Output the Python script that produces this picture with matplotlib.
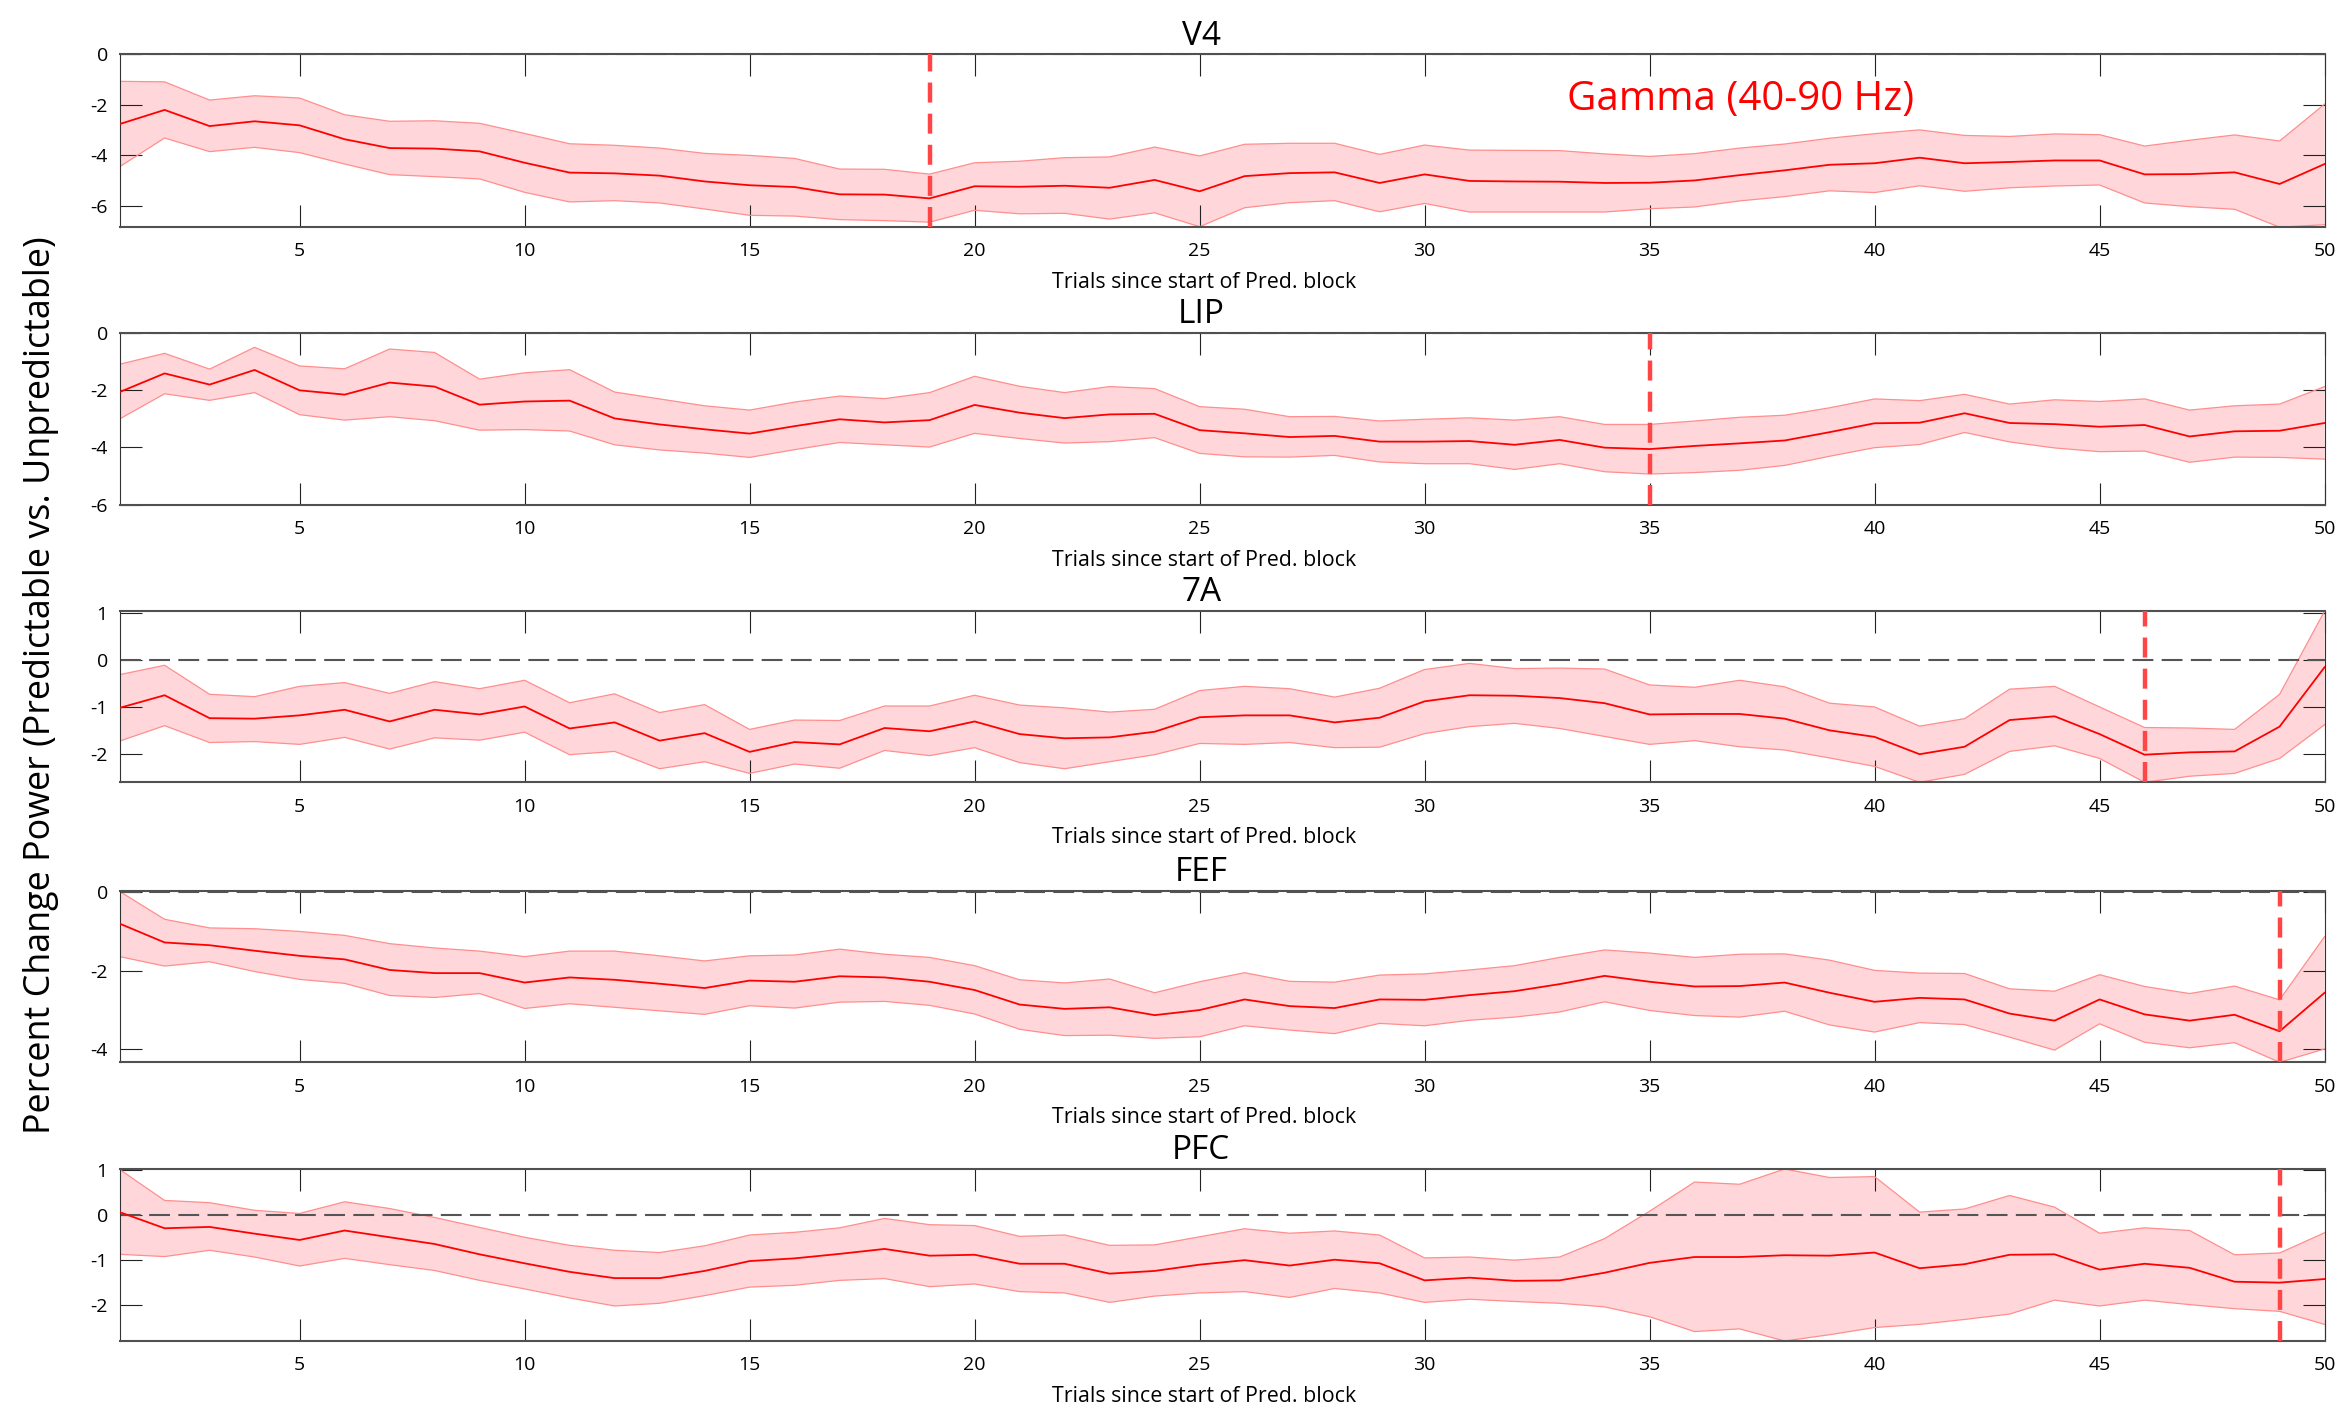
import numpy as np
import matplotlib
matplotlib.use("Agg")
import matplotlib.pyplot as plt

plt.rcParams["font.family"] = ["Open Sans", "DejaVu Sans"]
plt.rcParams["axes.unicode_minus"] = False

trials = np.arange(1, 51)
areas = ["V4", "LIP", "7A", "FEF", "PFC"]
x_ticks = [5, 10, 15, 20, 25, 30, 35, 40, 45, 50]
x_label = "Trials since start of Pred. block"
y_label = "Percent Change Power (Predictable vs. Unpredictable)"
band_label = "Gamma (40-90 Hz)"

# ---- V4 ----
v4_mean = [-2.76, -2.20, -2.84, -2.65, -2.81, -3.36, -3.71, -3.73, -3.84, -4.29,
           -4.68, -4.71, -4.80, -5.03, -5.18, -5.25, -5.54, -5.55, -5.70, -5.22,
           -5.24, -5.20, -5.28, -4.97, -5.42, -4.82, -4.70, -4.67, -5.09, -4.75,
           -5.01, -5.03, -5.04, -5.09, -5.08, -4.99, -4.78, -4.59, -4.37, -4.31,
           -4.09, -4.31, -4.26, -4.20, -4.20, -4.75, -4.74, -4.67, -5.13, -4.34]
v4_upper = [-1.07, -1.09, -1.81, -1.64, -1.73, -2.39, -2.65, -2.63, -2.73, -3.13,
            -3.54, -3.60, -3.71, -3.92, -4.00, -4.12, -4.54, -4.55, -4.74, -4.29,
            -4.23, -4.09, -4.06, -3.67, -4.02, -3.56, -3.52, -3.52, -3.96, -3.59,
            -3.79, -3.80, -3.81, -3.94, -4.04, -3.93, -3.71, -3.55, -3.32, -3.14,
            -2.99, -3.21, -3.25, -3.15, -3.18, -3.63, -3.40, -3.19, -3.43, -1.97]
v4_lower = [-4.45, -3.31, -3.85, -3.68, -3.89, -4.34, -4.76, -4.84, -4.93, -5.46,
            -5.84, -5.79, -5.88, -6.12, -6.37, -6.40, -6.54, -6.58, -6.64, -6.17,
            -6.31, -6.29, -6.52, -6.27, -6.82, -6.07, -5.87, -5.79, -6.23, -5.90,
            -6.24, -6.24, -6.24, -6.24, -6.11, -6.04, -5.80, -5.63, -5.40, -5.47,
            -5.20, -5.42, -5.28, -5.21, -5.17, -5.88, -6.03, -6.13, -6.84, -6.74]

# ---- LIP ----
lip_mean = [-2.07, -1.42, -1.81, -1.30, -2.01, -2.16, -1.74, -1.88, -2.51, -2.40,
            -2.37, -2.99, -3.20, -3.37, -3.52, -3.26, -3.02, -3.13, -3.05, -2.52,
            -2.79, -2.98, -2.85, -2.83, -3.40, -3.51, -3.64, -3.60, -3.80, -3.80,
            -3.78, -3.91, -3.74, -4.01, -4.06, -3.95, -3.86, -3.76, -3.47, -3.16,
            -3.14, -2.81, -3.15, -3.19, -3.28, -3.22, -3.62, -3.44, -3.42, -3.15]
lip_upper = [-1.10, -0.72, -1.27, -0.51, -1.16, -1.26, -0.57, -0.69, -1.62, -1.40,
             -1.29, -2.07, -2.31, -2.55, -2.70, -2.42, -2.21, -2.30, -2.09, -1.52,
             -1.87, -2.09, -1.88, -1.95, -2.58, -2.67, -2.93, -2.92, -3.08, -3.02,
             -2.97, -3.05, -2.93, -3.20, -3.20, -3.08, -2.95, -2.88, -2.62, -2.31,
             -2.37, -2.15, -2.49, -2.34, -2.40, -2.31, -2.70, -2.55, -2.49, -1.88]
lip_lower = [-3.01, -2.13, -2.36, -2.09, -2.86, -3.05, -2.93, -3.07, -3.40, -3.38,
             -3.43, -3.91, -4.09, -4.20, -4.35, -4.08, -3.83, -3.91, -3.99, -3.51,
             -3.69, -3.85, -3.80, -3.66, -4.21, -4.33, -4.34, -4.28, -4.51, -4.57,
             -4.57, -4.77, -4.57, -4.85, -4.93, -4.88, -4.80, -4.63, -4.31, -4.01,
             -3.90, -3.48, -3.81, -4.02, -4.15, -4.13, -4.52, -4.34, -4.35, -4.41]

# ---- 7A ----
a7_mean = [-1.02, -0.75, -1.24, -1.25, -1.18, -1.06, -1.31, -1.06, -1.16, -0.99,
           -1.46, -1.33, -1.72, -1.56, -1.96, -1.75, -1.80, -1.45, -1.52, -1.31,
           -1.58, -1.67, -1.65, -1.53, -1.22, -1.18, -1.18, -1.33, -1.23, -0.88,
           -0.75, -0.76, -0.81, -0.92, -1.16, -1.15, -1.15, -1.25, -1.50, -1.64,
           -2.01, -1.85, -1.28, -1.20, -1.58, -2.02, -1.97, -1.95, -1.42, -0.15]
a7_upper = [-0.31, -0.11, -0.73, -0.78, -0.56, -0.48, -0.71, -0.46, -0.61, -0.43,
            -0.91, -0.72, -1.12, -0.95, -1.48, -1.28, -1.29, -0.98, -0.98, -0.75,
            -0.96, -1.02, -1.11, -1.05, -0.65, -0.56, -0.61, -0.79, -0.60, -0.20,
            -0.07, -0.18, -0.17, -0.19, -0.53, -0.58, -0.43, -0.57, -0.92, -1.00,
            -1.41, -1.25, -0.62, -0.56, -1.00, -1.44, -1.45, -1.48, -0.73, 1.05]
a7_lower = [-1.73, -1.40, -1.76, -1.74, -1.80, -1.65, -1.90, -1.66, -1.71, -1.54,
            -2.02, -1.95, -2.32, -2.17, -2.42, -2.22, -2.31, -1.93, -2.04, -1.87,
            -2.19, -2.32, -2.17, -2.02, -1.78, -1.80, -1.76, -1.87, -1.86, -1.57,
            -1.42, -1.35, -1.46, -1.63, -1.80, -1.72, -1.85, -1.92, -2.09, -2.27,
            -2.61, -2.44, -1.95, -1.83, -2.10, -2.61, -2.48, -2.42, -2.10, -1.38]

# ---- FEF ----
fef_mean = [-0.80, -1.28, -1.35, -1.49, -1.62, -1.71, -1.98, -2.06, -2.06, -2.30,
            -2.17, -2.23, -2.33, -2.44, -2.25, -2.28, -2.14, -2.17, -2.28, -2.49,
            -2.86, -2.97, -2.93, -3.13, -3.00, -2.73, -2.90, -2.95, -2.73, -2.74,
            -2.62, -2.52, -2.34, -2.13, -2.28, -2.40, -2.39, -2.30, -2.56, -2.79,
            -2.69, -2.73, -3.09, -3.27, -2.73, -3.11, -3.27, -3.12, -3.54, -2.56]
fef_upper = [0.02, -0.69, -0.91, -0.93, -1.00, -1.10, -1.31, -1.42, -1.50, -1.64,
             -1.50, -1.50, -1.62, -1.75, -1.62, -1.60, -1.45, -1.58, -1.66, -1.87,
             -2.23, -2.31, -2.21, -2.56, -2.28, -2.05, -2.27, -2.29, -2.11, -2.08,
             -1.98, -1.87, -1.66, -1.47, -1.55, -1.66, -1.58, -1.57, -1.73, -1.99,
             -2.06, -2.07, -2.46, -2.52, -2.10, -2.40, -2.58, -2.39, -2.74, -1.13]
fef_lower = [-1.64, -1.88, -1.77, -2.02, -2.22, -2.32, -2.63, -2.68, -2.58, -2.96,
             -2.84, -2.93, -3.02, -3.11, -2.89, -2.95, -2.80, -2.78, -2.88, -3.10,
             -3.49, -3.65, -3.64, -3.72, -3.68, -3.40, -3.51, -3.60, -3.34, -3.40,
             -3.26, -3.18, -3.05, -2.79, -3.01, -3.14, -3.18, -3.03, -3.38, -3.56,
             -3.32, -3.37, -3.69, -4.02, -3.35, -3.82, -3.96, -3.83, -4.33, -3.99]

# ---- PFC ----
pfc_mean = [0.06, -0.30, -0.27, -0.42, -0.56, -0.35, -0.50, -0.65, -0.88, -1.08,
            -1.27, -1.41, -1.41, -1.25, -1.03, -0.97, -0.87, -0.76, -0.91, -0.89,
            -1.09, -1.09, -1.31, -1.25, -1.11, -1.01, -1.13, -1.00, -1.08, -1.46,
            -1.40, -1.47, -1.46, -1.29, -1.07, -0.94, -0.94, -0.90, -0.91, -0.84,
            -1.19, -1.10, -0.89, -0.88, -1.22, -1.09, -1.18, -1.49, -1.51, -1.43]
pfc_upper = [1.01, 0.32, 0.27, 0.10, 0.03, 0.29, 0.14, -0.06, -0.28, -0.50,
             -0.68, -0.79, -0.84, -0.69, -0.45, -0.39, -0.29, -0.08, -0.22, -0.24,
             -0.48, -0.45, -0.68, -0.67, -0.49, -0.31, -0.41, -0.36, -0.45, -0.96,
             -0.94, -1.01, -0.94, -0.53, 0.08, 0.73, 0.68, 1.02, 0.83, 0.85,
             0.06, 0.13, 0.43, 0.17, -0.41, -0.29, -0.35, -0.89, -0.85, -0.40]
pfc_lower = [-0.88, -0.93, -0.79, -0.94, -1.14, -0.97, -1.11, -1.24, -1.46, -1.65,
             -1.85, -2.03, -1.97, -1.80, -1.61, -1.57, -1.46, -1.42, -1.60, -1.54,
             -1.71, -1.74, -1.95, -1.81, -1.74, -1.71, -1.84, -1.64, -1.74, -1.95,
             -1.88, -1.93, -1.97, -2.05, -2.27, -2.60, -2.54, -2.81, -2.67, -2.51,
             -2.44, -2.33, -2.21, -1.90, -2.03, -1.90, -2.00, -2.09, -2.15, -2.44]

# trial at which each area's change point is marked
change_trials = [19, 35, 46, 49, 49]

y_limits = [(-6.82, 0.0), (-6.0, 0.0), (-2.61, 1.05), (-4.33, 0.03), (-2.81, 1.02)]
y_ticks = [[-6, -4, -2, 0], [-6, -4, -2, 0], [-2, -1, 0, 1], [-4, -2, 0], [-2, -1, 0, 1]]

means = [v4_mean, lip_mean, a7_mean, fef_mean, pfc_mean]
uppers = [v4_upper, lip_upper, a7_upper, fef_upper, pfc_upper]
lowers = [v4_lower, lip_lower, a7_lower, fef_lower, pfc_lower]

W, H = 2342, 1413
fig = plt.figure(figsize=(W / 100, H / 100), dpi=100)

left_px, right_px = 119.6, 2324.6
tops_px = [54.3, 332.7, 611.0, 891.0, 1169.0]
bottoms_px = [226.7, 504.7, 782.3, 1062.3, 1341.0]

for i, area in enumerate(areas):
    ax = fig.add_axes([left_px / W, 1 - bottoms_px[i] / H,
                       (right_px - left_px) / W, (bottoms_px[i] - tops_px[i]) / H])
    ax.fill_between(trials, lowers[i], uppers[i], facecolor="#FFD7DA",
                    edgecolor="none", zorder=1)
    ax.plot(trials, uppers[i], color="#FF8E8E", lw=0.9, zorder=2)
    ax.plot(trials, lowers[i], color="#FF8E8E", lw=0.9, zorder=2)
    ax.plot(trials, means[i], color="#FF0000", lw=1.3, zorder=3)
    ax.axhline(0, color="#555555", lw=1.5, dashes=(10, 4), zorder=2.5)
    ax.axvline(change_trials[i], color="#FF4545", lw=3.2, dashes=(4.5, 2.5),
               zorder=4)

    ax.set_xlim(1, 50)
    ax.set_ylim(*y_limits[i])
    ax.set_xticks(x_ticks)
    ax.set_yticks(y_ticks[i])
    ax.tick_params(axis="both", direction="in", length=15.8, width=0.8,
                   color="#222222", labelsize=14, top=True, right=True)
    ax.tick_params(axis="x", pad=11)
    ax.tick_params(axis="y", pad=8.5)
    for side in ("top", "bottom"):
        ax.spines[side].set_color("#505050")
        ax.spines[side].set_linewidth(1.5)
    for side in ("left", "right"):
        ax.spines[side].set_color("#333333")
        ax.spines[side].set_linewidth(0.8)

    ax.set_title(area, fontsize=24, x=0.4905, pad=7)
    ax.set_xlabel(x_label, fontsize=15.4)
    ax.xaxis.set_label_coords(0.492, -0.262)

    if i == 0:
        ax.text(0.735, 0.677, band_label, transform=ax.transAxes, color="#FF0000",
                fontsize=29, ha="center", va="baseline")

fig.text(41 / W, 1 - 685.6 / H, y_label, rotation=90, ha="center", va="center",
         fontsize=25.8)

fig.savefig("out.png", dpi=100, facecolor="white")
